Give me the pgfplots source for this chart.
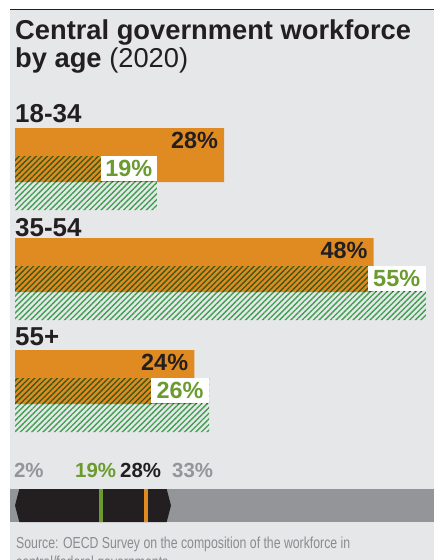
\documentclass[border=0pt]{standalone}
\usepackage{pgfplots}
\pgfplotsset{compat=1.18}
\usetikzlibrary{patterns.meta}
\usepackage{fontspec}
\setmainfont{Liberation Sans}
\newfontfamily\srcfont[FakeStretch=0.77]{Liberation Sans}
\definecolor{bg}{HTML}{E6E7E9}
\definecolor{orangebar}{HTML}{E08B22}
\definecolor{hatchgreen}{HTML}{3DA04E}
\definecolor{hatchdark}{HTML}{3A5A14}
\definecolor{labgreen}{HTML}{6B9B2F}
\definecolor{ink}{HTML}{231F20}
\definecolor{midgray}{HTML}{939598}
\definecolor{srcgray}{HTML}{8A8C8F}
\newcommand{\fs}[1]{\fontsize{#1}{#1}\selectfont}
\begin{document}
\begin{tikzpicture}
\path[use as bounding box] (0,0) rectangle (434bp,560bp);
\clip (0,0) rectangle (434bp,560bp);
\fill[white] (0,0) rectangle (434bp,560bp);
% main chart: x in percent, y in pixels from top
\begin{axis}[at={(0,0)}, anchor=south west, scale only axis,
  width=434bp, height=560bp,
  xmin=-2.008, xmax=56.09, ymin=0, ymax=560, y dir=reverse,
  axis lines=none, clip=false]
\fill[bg] (axis cs:-0.669,10) rectangle (axis cs:56.09,560);
\draw[ink, line width=1bp] (axis cs:-0.669,9) -- (axis cs:56.09,9);
% title
\node[anchor=base west, inner sep=0, text=ink, font=\bfseries\fs{27.4}] at (axis cs:0,39) {Central government workforce};
\node[anchor=base west, inner sep=0, text=ink, font=\fs{27.4}] at (axis cs:0,67) {\textbf{by age} (2020)};
% group labels
\node[anchor=base west, inner sep=0, text=ink, font=\bfseries\fs{26}] at (axis cs:0,122) {18-34};
\node[anchor=base west, inner sep=0, text=ink, font=\bfseries\fs{26}] at (axis cs:0,236) {35-54};
\node[anchor=base west, inner sep=0, text=ink, font=\bfseries\fs{26}] at (axis cs:0,345) {55+};
% orange series (country)
\addplot[xbar, bar width=54, bar shift=0pt, fill=orangebar, draw=none]
  coordinates {(28,155) (48,265) (24,377)};
% green series (OECD), lower part on background
\addplot[xbar, bar width=28, bar shift=0pt, draw=none,
  pattern={Lines[angle=45,distance=4bp,line width=1.35bp]}, pattern color=hatchgreen]
  coordinates {(19,196) (55,306) (26,418)};
% green series, part over the orange bar
\addplot[xbar, bar width=26, bar shift=0pt, draw=none,
  pattern={Lines[angle=45,distance=4bp,line width=1.35bp]}, pattern color=hatchdark]
  coordinates {(19,169) (55,279) (26,391)};
% orange labels
\node[anchor=base east, inner sep=0, xshift=-6bp, text=ink, font=\bfseries\fs{23.5}] at (axis cs:28,148) {28\%};
\node[anchor=base east, inner sep=0, xshift=-6bp, text=ink, font=\bfseries\fs{23.5}] at (axis cs:48,258) {48\%};
\node[anchor=base east, inner sep=0, xshift=-6bp, text=ink, font=\bfseries\fs{23.5}] at (axis cs:24,370) {24\%};
% green labels in white boxes
\node[anchor=east, fill=white, minimum width=56bp, minimum height=25bp, inner sep=0, text=labgreen, font=\bfseries\fs{23.5}] at (axis cs:19,168.5) {19\%};
\node[anchor=east, fill=white, minimum width=58bp, minimum height=25bp, inner sep=0, text=labgreen, font=\bfseries\fs{23.5}] at (axis cs:55,278.5) {55\%};
\node[anchor=east, fill=white, minimum width=58bp, minimum height=25bp, inner sep=0, text=labgreen, font=\bfseries\fs{23.5}] at (axis cs:26,390.5) {26\%};
\end{axis}
% range strip: x in percent on its own scale
\begin{axis}[at={(0,0)}, anchor=south west, scale only axis,
  width=434bp, height=560bp,
  xmin=-0.981, xmax=85.27, ymin=0, ymax=560, y dir=reverse,
  axis lines=none, clip=false]
\addplot[fill=midgray, draw=none] coordinates {(1.006,489) (85.27,489) (85.27,522) (1.006,522)} -- cycle;
\addplot[fill=ink, draw=none] coordinates {(2,505.5) (2.86,489) (32.15,489) (33,505.5) (32.15,522) (2.86,522)} -- cycle;
\addplot[labgreen, line width=4bp] coordinates {(19,489) (19,522)};
\addplot[orangebar, line width=4bp] coordinates {(28,489) (28,522)};
\node[anchor=base west, inner sep=0, text=midgray, font=\bfseries\fs{20.5}] at (axis cs:1.78,477) {2\%};
\node[anchor=base west, inner sep=0, text=labgreen, font=\bfseries\fs{20.5}] at (axis cs:13.92,477) {19\%};
\node[anchor=base west, inner sep=0, text=ink, font=\bfseries\fs{20.5}] at (axis cs:22.87,477) {28\%};
\node[anchor=base west, inner sep=0, text=midgray, font=\bfseries\fs{20.5}] at (axis cs:33.2,477) {33\%};
\node[anchor=base west, inner sep=0, text=srcgray, font=\srcfont\fs{16}] at (axis cs:2.2,548) {Source: OECD Survey on the composition of the workforce in};
\node[anchor=base west, inner sep=0, text=srcgray, font=\srcfont\fs{16}] at (axis cs:2.2,567) {central/federal governments};
\end{axis}
\end{tikzpicture}
\end{document}
